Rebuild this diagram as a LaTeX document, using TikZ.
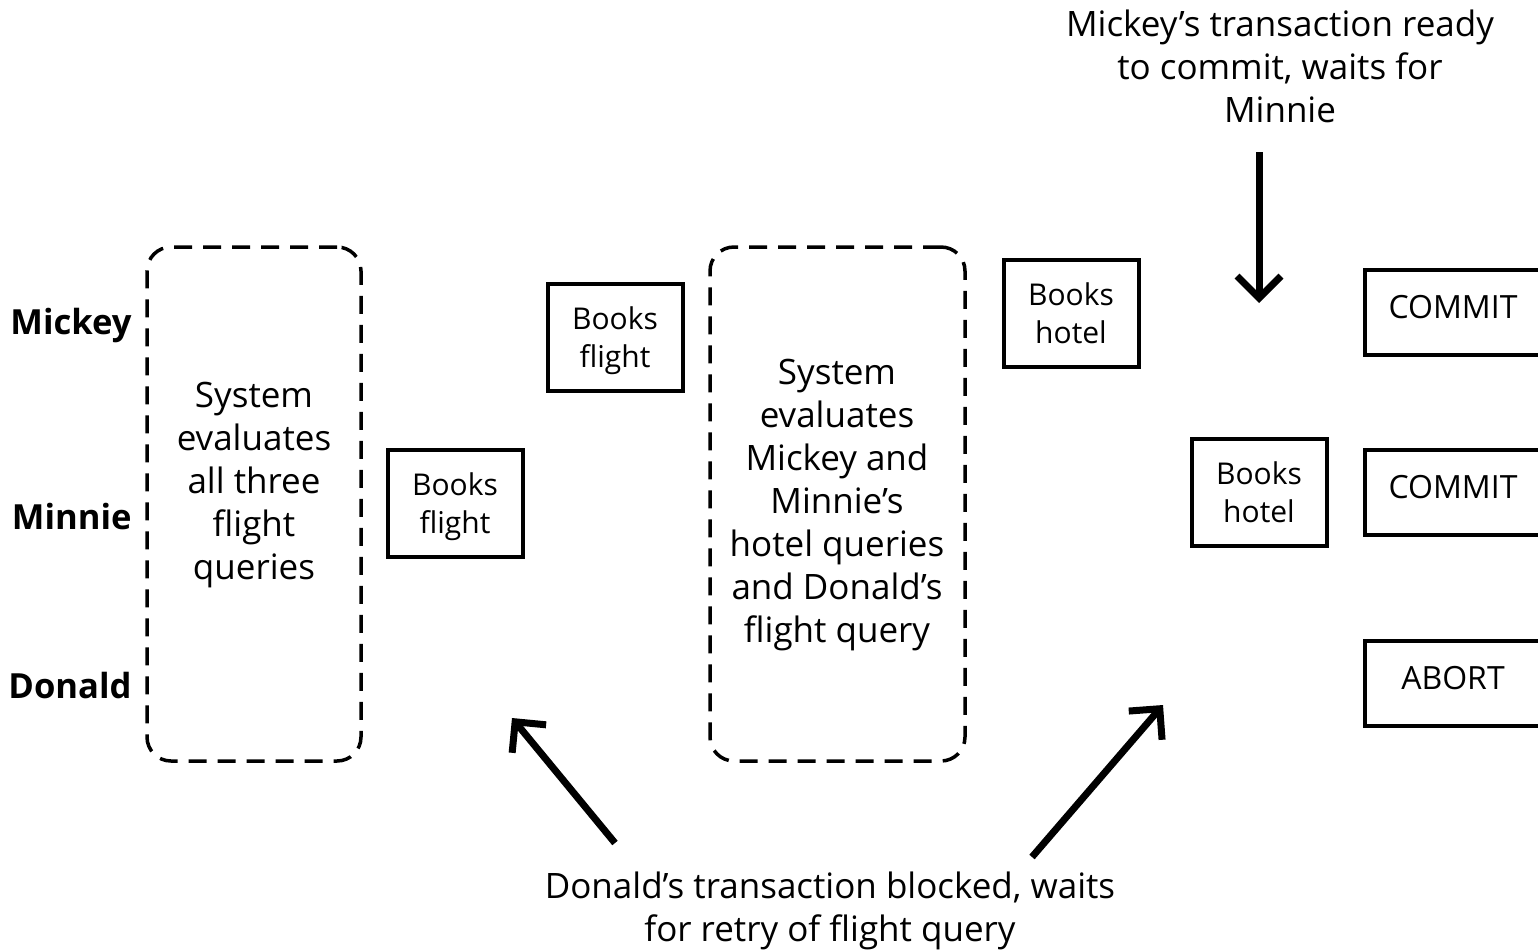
\documentclass[tikz,border=0pt]{standalone}
\usepackage{fontspec}
\setmainfont{Open Sans}
\usetikzlibrary{arrows.meta,positioning}

\begin{document}
\begin{tikzpicture}[
  x=0.5pt,y=-0.5pt,
  every node/.style={font=\fontsize{17.5}{21.5}\selectfont},
  player/.style={font=\fontsize{17.3}{21.5}\selectfont\bfseries,anchor=east,inner sep=0pt},
  evalbox/.style={draw,dash pattern=on 9pt off 5.5pt,line width=1.75pt,rounded corners=12pt,
                  minimum width=107pt,minimum height=257pt},
  bookbox/.style={draw,line width=2pt,minimum width=67.5pt,minimum height=53.5pt,align=center,
                  inner sep=1pt,text depth=0pt,font=\fontsize{15}{19}\selectfont},
  endbox/.style={draw,line width=2pt,minimum width=88pt,minimum height=42.5pt,
                 text depth=5pt,font=\fontsize{16}{19}\selectfont},
  note/.style={align=center},
  bigarrow/.style={line width=3.5pt,-{Straight Barb[length=11pt,width=22pt]}},
]
  \useasboundingbox (0,0) rectangle (1538,949);

  % Transactions
  \node[player] (mickey) at (132,326) {Mickey};
  \node[player] (minnie) at (132,517) {Minnie};
  \node[player] (donald) at (132,686) {Donald};

  % First evaluation round
  \node[evalbox] (eval1) at (254,504) {};
  \node[note] (eval1txt) at (254,485) {System\\evaluates\\all three\\flight\\queries};
  \node[bookbox] (flight1) at (615,337) {Books\\flight};
  \node[bookbox] (flight2) at (455,503) {Books\\flight};

  % Second evaluation round
  \node[evalbox,minimum width=127.5pt] (eval2) at (837.5,504) {};
  \node[note] (eval2txt) at (837,505) {System\\evaluates\\Mickey and\\Minnie's\\hotel queries\\and Donald's\\flight query};
  \node[bookbox] (hotel1) at (1071,313) {Books\\hotel};
  \node[bookbox] (hotel2) at (1259,492) {Books\\hotel};

  % Outcomes
  \node[endbox] (commit1) at (1453,312) {COMMIT};
  \node[endbox] (commit2) at (1453,492) {COMMIT};
  \node[endbox] (abort) at (1453,683) {ABORT};

  % Notes
  \node[note] (ready) at (1280,66) {Mickey's transaction ready\\to commit, waits for\\Minnie};
  \node[note] (blocked) at (830,911) {Donald's transaction blocked, waits\\for retry of flight query};

  \coordinate (readytail) at (1259,152);
  \coordinate (readytip) at (1259,303);
  \coordinate (blocktail1) at (615,843);
  \coordinate (blocktip1) at (512,718);
  \coordinate (blocktail2) at (1032,857);
  \coordinate (blocktip2) at (1163,705);

  \draw[bigarrow] (readytail) -- (readytip);
  \draw[bigarrow] (blocktail1) -- (blocktip1);
  \draw[bigarrow] (blocktail2) -- (blocktip2);
\end{tikzpicture}
\end{document}
